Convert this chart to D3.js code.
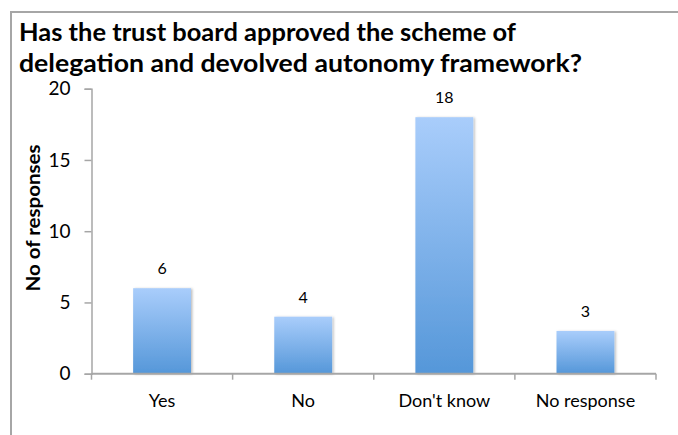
<!DOCTYPE html>
<html>
<head>
<meta charset="utf-8">
<script src="https://cdn.jsdelivr.net/npm/d3@7"></script>
<style>
  html, body { margin: 0; padding: 0; background: #fff; }
  svg { display: block; font-family: Lato, "Open Sans", sans-serif; }
</style>
</head>
<body>
<svg id="chart" width="678" height="435"></svg>
<script>
// Survey responses
const categories = ["Yes", "No", "Don't know", "No response"];
const responses = [6, 4, 18, 3];
const yTicks = [0, 5, 10, 15, 20];
const titleLines = ["Has the trust board approved the scheme of",
                    "delegation and devolved autonomy framework?"];
const yLabel = "No of responses";

const W = 678, H = 435;
const plot = { left: 91.5, right: 656, top: 88.7, bottom: 373.7 };

const svg = d3.select("#chart");

// gradient fill for bars
const defs = svg.append("defs");
const grad = defs.append("linearGradient")
  .attr("id", "barFill").attr("x1", 0).attr("y1", 0).attr("x2", 0).attr("y2", 1);
grad.append("stop").attr("offset", "0%").attr("stop-color", "#a9cdfb");
grad.append("stop").attr("offset", "100%").attr("stop-color", "#5597d9");

const shadow = defs.append("filter").attr("id", "shadow")
  .attr("x", "-10%").attr("y", "-10%").attr("width", "130%").attr("height", "120%");
shadow.append("feDropShadow").attr("dx", 1.5).attr("dy", 0.5)
  .attr("stdDeviation", 1).attr("flood-color", "#000").attr("flood-opacity", 0.25);

// outer frame
svg.append("path")
  .attr("d", `M11,${H} L11,12 L${W},12`)
  .attr("fill", "none").attr("stroke", "#a6a6a6").attr("stroke-width", 2);

// title, two lines
const titleWidths = [497, 563];
svg.append("g").selectAll("text").data(titleLines).join("text")
  .attr("x", 19).attr("y", (d, i) => 41 + i * 31)
  .attr("font-size", 24).attr("font-weight", "bold").attr("fill", "#000")
  .attr("textLength", (d, i) => titleWidths[i])
  .attr("lengthAdjust", "spacingAndGlyphs")
  .text(d => d);

const x = d3.scaleBand().domain(categories).range([plot.left, plot.right]).padding(0);
const y = d3.scaleLinear().domain([0, 20]).range([plot.bottom, plot.top]);
const barW = x.bandwidth() * 0.41;

// bars
svg.append("g").selectAll("rect").data(categories).join("rect")
  .attr("x", d => x(d) + (x.bandwidth() - barW) / 2)
  .attr("y", (d, i) => y(responses[i]))
  .attr("width", barW)
  .attr("height", (d, i) => y(0) - y(responses[i]))
  .attr("fill", "url(#barFill)")
  .attr("filter", "url(#shadow)");

// value labels
svg.append("g").selectAll("text").data(categories).join("text")
  .attr("x", d => x(d) + x.bandwidth() / 2)
  .attr("y", (d, i) => y(responses[i]) - 14)
  .attr("text-anchor", "middle").attr("font-size", 16).attr("fill", "#000")
  .text((d, i) => responses[i]);

// y axis
const yAxis = svg.append("g").attr("transform", `translate(${plot.left},0)`)
  .call(d3.axisLeft(y).tickValues(yTicks).tickSize(7).tickPadding(14));
yAxis.select(".domain").attr("stroke", "#a6a6a6").attr("stroke-width", 1.5);
yAxis.selectAll(".tick line").attr("stroke", "#a6a6a6").attr("stroke-width", 1.5);
yAxis.selectAll(".tick text").attr("font-size", 19).attr("fill", "#000")
  .attr("font-family", "Lato, sans-serif");

// x axis with ticks on band boundaries
const xAxis = svg.append("g").attr("transform", `translate(0,${plot.bottom})`);
xAxis.append("line")
  .attr("x1", plot.left).attr("x2", plot.right)
  .attr("stroke", "#a6a6a6").attr("stroke-width", 2);
const edges = categories.map(c => x(c)).concat([plot.right]);
xAxis.selectAll("line.edge").data(edges).join("line").attr("class", "edge")
  .attr("x1", d => d).attr("x2", d => d).attr("y1", 0).attr("y2", 6)
  .attr("stroke", "#a6a6a6").attr("stroke-width", 1.5);
xAxis.selectAll("text").data(categories).join("text")
  .attr("x", d => x(d) + x.bandwidth() / 2).attr("y", 33)
  .attr("text-anchor", "middle").attr("font-size", 18).attr("fill", "#000")
  .text(d => d);

// y axis title
svg.append("text")
  .attr("transform", `translate(35,218) rotate(-90)`)
  .attr("text-anchor", "middle").attr("dominant-baseline", "middle")
  .attr("font-size", 19.5).attr("font-weight", "bold").attr("fill", "#000")
  .attr("textLength", 147).attr("lengthAdjust", "spacingAndGlyphs")
  .text(yLabel);
</script>
</body>
</html>
